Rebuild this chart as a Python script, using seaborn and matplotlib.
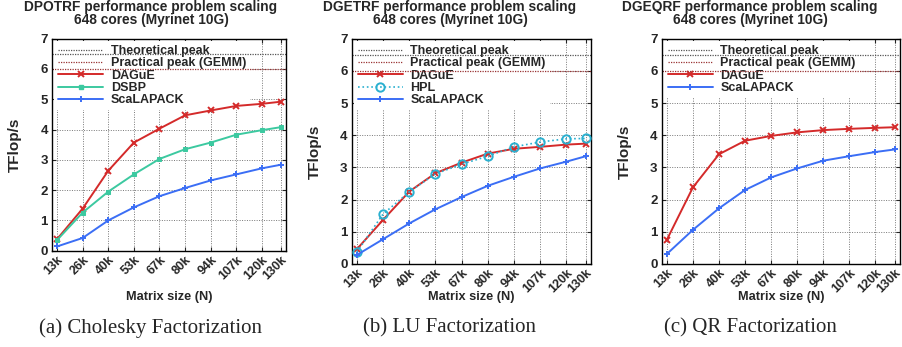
import numpy as np
import pandas as pd
import matplotlib
matplotlib.use("Agg")
import matplotlib.pyplot as plt
import seaborn as sns
from matplotlib.lines import Line2D

sns.set_style("ticks")
plt.rcParams['font.family'] = ['Liberation Sans', 'DejaVu Sans']
plt.rcParams['font.weight'] = 'bold'

# ---- data ----
matrix_n = [13.44, 26.88, 40.32, 53.76, 67.2, 80.64, 94.08, 107.52, 120.96, 131.0]
tick_labels = ["13k", "26k", "40k", "53k", "67k", "80k", "94k", "107k", "120k", "130k"]
theoretical_peak = 6.5
practical_peak = 6.0

chol_dague = [0.38, 1.39, 2.64, 3.57, 4.03, 4.47, 4.63, 4.78, 4.85, 4.92]
chol_dsbp = [0.35, 1.26, 1.95, 2.52, 3.03, 3.35, 3.57, 3.83, 3.98, 4.08]
chol_scalapack = [0.14, 0.42, 1.00, 1.43, 1.80, 2.07, 2.32, 2.52, 2.72, 2.84]

lu_dague = [0.46, 1.37, 2.25, 2.82, 3.15, 3.43, 3.58, 3.64, 3.71, 3.74]
lu_hpl = [0.37, 1.55, 2.24, 2.80, 3.10, 3.35, 3.64, 3.79, 3.89, 3.90]
lu_scalapack = [0.28, 0.77, 1.26, 1.70, 2.08, 2.43, 2.71, 2.97, 3.18, 3.35]

qr_dague = [0.75, 2.38, 3.41, 3.83, 3.98, 4.09, 4.16, 4.20, 4.23, 4.25]
qr_scalapack = [0.31, 1.06, 1.73, 2.30, 2.69, 2.97, 3.21, 3.35, 3.48, 3.56]

titles = ["DPOTRF performance problem scaling\n648 cores (Myrinet 10G)",
          "DGETRF performance problem scaling\n648 cores (Myrinet 10G)",
          "DGEQRF performance problem scaling\n648 cores (Myrinet 10G)"]
captions = ["(a) Cholesky Factorization", "(b) LU Factorization", "(c) QR Factorization"]

C_DAGUE = '#d42a2a'
C_DSBP = '#3cc9a0'
C_SCA = '#3b6ef5'
C_HPL = '#2ab0d0'
C_THEO = '#555555'
C_PRAC = '#993333'

W, H = 903, 347
fig = plt.figure(figsize=(W / 100, H / 100), dpi=100)

# axes boxes in pixels: left, right, top, bottom
boxes = [(52, 286, 38.7, 250.7), (351.7, 591, 38.7, 264), (661.7, 900, 38.7, 264)]
title_cx = [151, 450, 750]

series_sets = [
    [("DAGuE", chol_dague, C_DAGUE, 'x', '-'), ("DSBP", chol_dsbp, C_DSBP, 's', '-'),
     ("ScaLAPACK", chol_scalapack, C_SCA, '+', '-')],
    [("DAGuE", lu_dague, C_DAGUE, 'x', '-'), ("HPL", lu_hpl, C_HPL, 'o', ':'),
     ("ScaLAPACK", lu_scalapack, C_SCA, '+', '-')],
    [("DAGuE", qr_dague, C_DAGUE, 'x', '-'), ("ScaLAPACK", qr_scalapack, C_SCA, '+', '-')],
]

for i, (l, r, t, b) in enumerate(boxes):
    ax = fig.add_axes([l / W, 1 - b / H, (r - l) / W, (b - t) / H])
    ax.set_xlim(10.8, 133.6)
    ax.set_ylim(0, 7)
    ax.set_axisbelow(True)
    ax.grid(True, linestyle=(0, (1, 1.5)), color='#777777', linewidth=0.7)

    handles = []
    ax.axhline(theoretical_peak, color=C_THEO, linestyle=(0, (1, 1)), linewidth=0.9, zorder=2)
    handles.append(Line2D([], [], color=C_THEO, linestyle=(0, (1, 1)), linewidth=0.9, label="Theoretical peak"))
    ax.axhline(practical_peak, color=C_PRAC, linestyle=(0, (1, 1)), linewidth=0.9, zorder=2)
    handles.append(Line2D([], [], color=C_PRAC, linestyle=(0, (1, 1)), linewidth=0.9, label="Practical peak (GEMM)"))

    for name, vals, col, mk, ls in series_sets[i]:
        df = pd.DataFrame({"N": matrix_n, "TF": vals})
        if mk == 'o':
            kw = dict(marker='o', markersize=6, markerfacecolor='none', markeredgecolor=col,
                      markeredgewidth=1.4, linestyle=ls, linewidth=1.2)
        elif mk == 's':
            kw = dict(marker='s', markersize=3, markerfacecolor=col, markeredgecolor=col,
                      linestyle=ls, linewidth=1.4)
        else:
            kw = dict(marker=mk, markersize=5, markeredgewidth=1.4, markeredgecolor=col,
                      linestyle=ls, linewidth=1.4)
        sns.lineplot(data=df, x="N", y="TF", ax=ax, color=col, zorder=3, **kw)
        handles.append(Line2D([], [], color=col, label=name, **kw))

    ax.set_xticks(matrix_n)
    ax.set_xticklabels(tick_labels, rotation=45, ha='right', rotation_mode='anchor',
                       fontsize=9, fontweight='bold')
    ax.set_yticks(range(0, 8))
    ax.set_yticklabels([str(v) for v in range(0, 8)], fontsize=9.5, fontweight='bold')
    ax.tick_params(direction='in', length=3, width=0.8, top=True, right=True, pad=3)
    ax.tick_params(axis='x', pad=2)
    for s in ax.spines.values():
        s.set_linewidth(1.0)
        s.set_color('black')
    ax.set_xlabel("Matrix size (N)", fontsize=9.2, fontweight='bold')
    ax.set_ylabel("TFlop/s", fontsize=11, fontweight='bold')
    xlab_y = 1 - 297 / H
    ax.xaxis.set_label_coords(0.5, (xlab_y - (1 - b / H)) / ((b - t) / H))
    ax.xaxis.label.set_va('center')
    ax.yaxis.set_label_coords(-37.0 / (r - l), 0.5)
    ax.yaxis.label.set_va('center')

    leg = ax.legend(handles=handles, loc='upper left', bbox_to_anchor=(0.0, 1.0),
                    borderaxespad=0.2, frameon=True, fancybox=False, framealpha=1,
                    facecolor='white', edgecolor='none', fontsize=9,
                    handlelength=3.6, handletextpad=0.6, labelspacing=0.03,
                    borderpad=0.3)
    for txt in leg.get_texts():
        txt.set_fontweight('bold')
    leg.set_zorder(1.5)

    fig.text(title_cx[i] / W, 1 - 13.5 / H, titles[i], ha='center', va='center',
             fontsize=9.9, fontweight='bold', linespacing=0.85, multialignment='center')
    fig.text(title_cx[i] / W, 1 - 328 / H, captions[i], ha='center', va='center',
             fontsize=15, fontweight='normal', family=['Liberation Serif', 'DejaVu Serif'])

fig.savefig("out.png", dpi=100)
